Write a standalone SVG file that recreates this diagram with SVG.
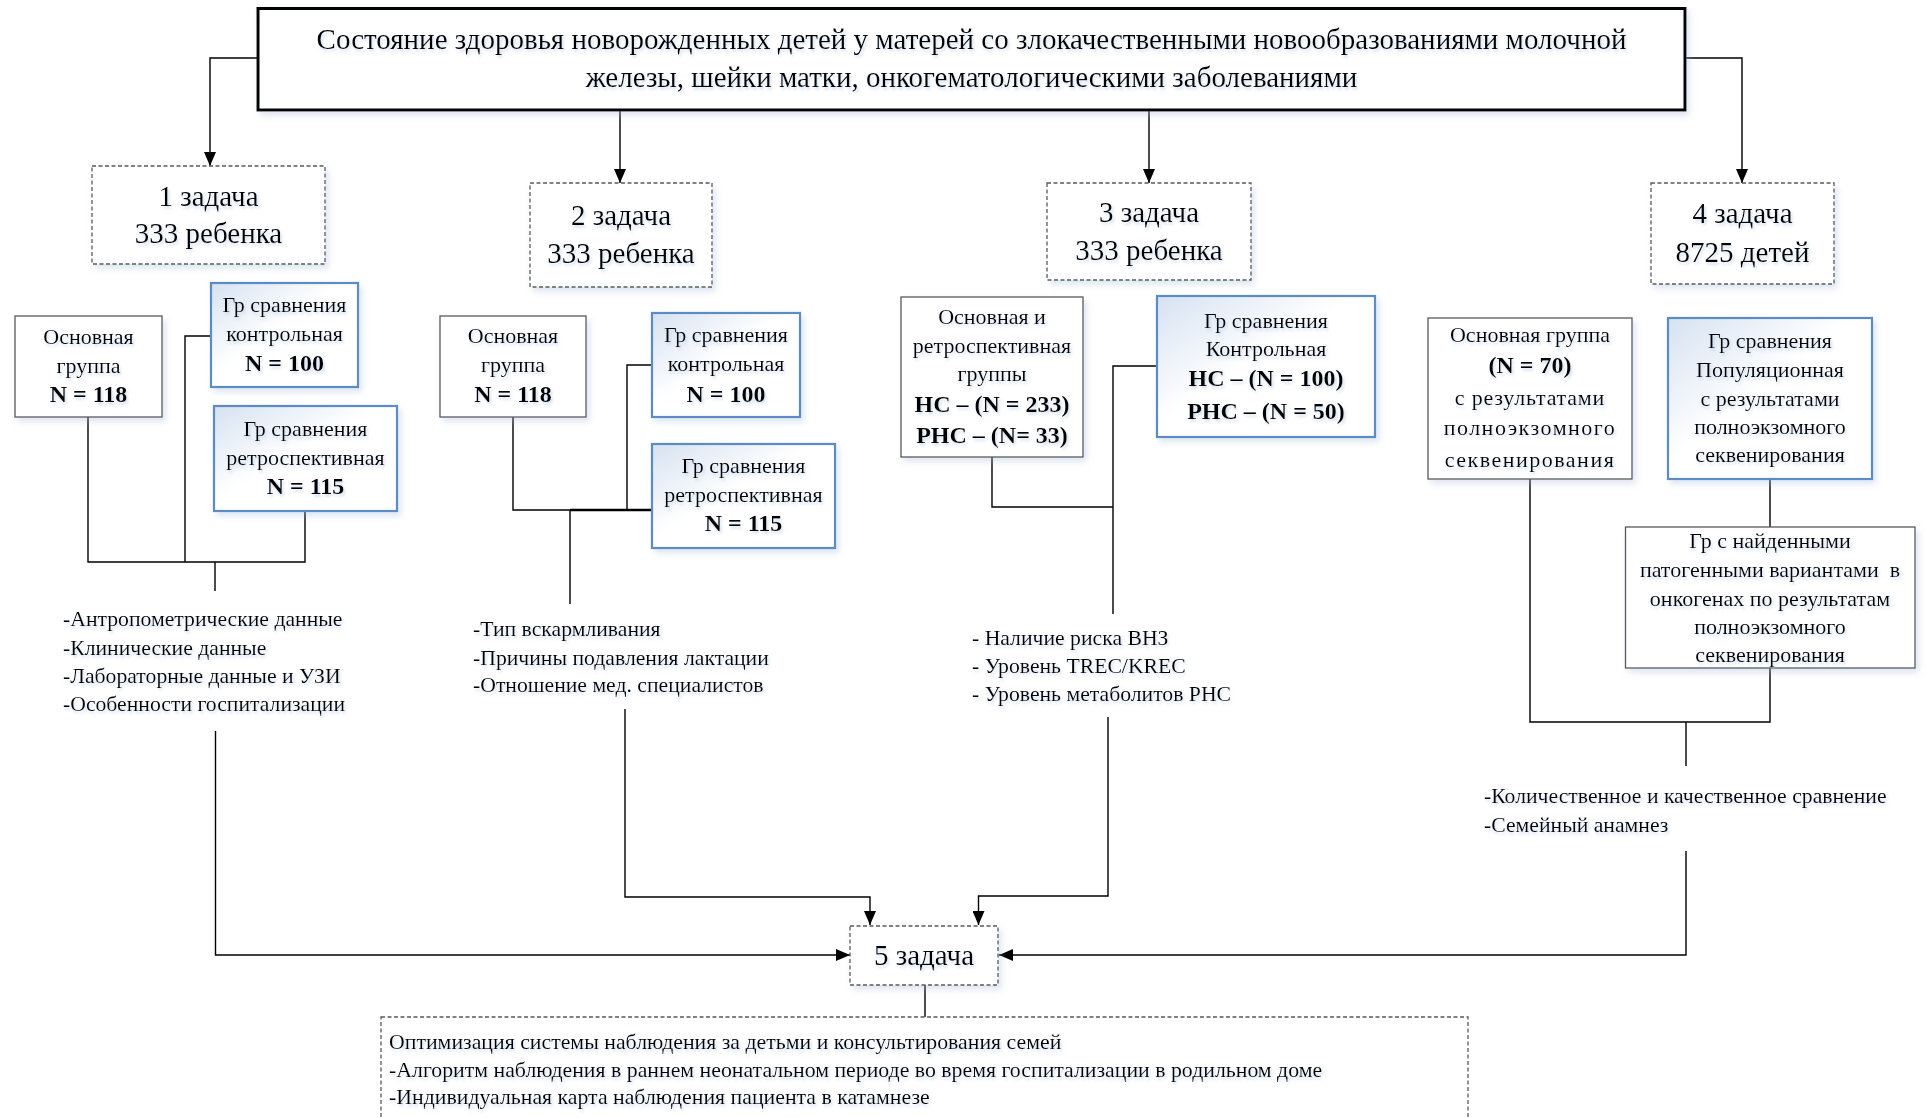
<svg xmlns="http://www.w3.org/2000/svg" width="1926" height="1118" viewBox="0 0 1926 1118">
<style>
.box{fill:#fff;stroke:#595959;stroke-width:1.3}
.blue{fill:url(#gb);stroke:#5B8BC6;stroke-width:2.2}
.dash{fill:#fff;stroke:#595959;stroke-width:1.3;stroke-dasharray:4 2.5}
.main{fill:#fff;stroke:#000;stroke-width:3}
.ln{fill:none;stroke:#000;stroke-width:1.4}
text{font-family:"Liberation Serif","Times New Roman",serif;fill:#000}
.tt{font-size:29px;text-anchor:middle}
.t28{font-size:29px;text-anchor:middle}
.t21{font-size:22px;text-anchor:middle}
.l21{font-size:21.7px}
.l22{font-size:21.8px}
.b{font-weight:bold;font-size:24px}
.sh{filter:url(#ds)}
.ts{filter:url(#ts)}
</style>
<defs>
<linearGradient id="gb" x1="0" y1="0" x2="1" y2="1">
<stop offset="0" stop-color="#D6E2F1"/>
<stop offset="0.45" stop-color="#FFFFFF"/>
<stop offset="1" stop-color="#FFFFFF"/>
</linearGradient>
<filter id="ds" x="-10%" y="-10%" width="125%" height="130%">
<feDropShadow dx="3" dy="4" stdDeviation="3" flood-color="#9DB7D8" flood-opacity="0.35"/>
</filter>
<filter id="ts" x="-5%" y="-20%" width="110%" height="150%">
<feDropShadow dx="1.5" dy="2.5" stdDeviation="1.5" flood-color="#A9C1DF" flood-opacity="0.55"/>
</filter>
<marker id="arb" viewBox="0 0 14 12" refX="14" refY="6" markerWidth="14" markerHeight="12" markerUnits="userSpaceOnUse" orient="auto">
<path d="M0,0 L14,6 L0,12 z" fill="#000"/>
</marker>
</defs>
<rect width="1926" height="1118" fill="#fff"/>

<g id="connectors">
<path class="ln" d="M258,58 H210 V166" marker-end="url(#arb)"/>
<path class="ln" d="M620,110 V183" marker-end="url(#arb)"/>
<path class="ln" d="M1149,110 V183" marker-end="url(#arb)"/>
<path class="ln" d="M1685,58 H1742 V183" marker-end="url(#arb)"/>
<path class="ln" d="M88,417 V562 H305 V511"/>
<path class="ln" d="M211,336 H185 V562"/>
<path class="ln" d="M215,562 V591"/>
<path class="ln" d="M513,417 V510 H652"/>
<path class="ln" d="M570,510 H652" style="stroke-width:2.4"/>
<path class="ln" d="M652,365 H627 V510"/>
<path class="ln" d="M570,510 V604"/>
<path class="ln" d="M992,457 V507 H1113"/>
<path class="ln" d="M1157,366 H1113 V614"/>
<path class="ln" d="M1530,479 V722 H1770 V668"/>
<path class="ln" d="M1770,479 V527"/>
<path class="ln" d="M1686,722 V766"/>
<path class="ln" d="M215.5,731 V955 H850" marker-end="url(#arb)"/>
<path class="ln" d="M625,709 V897 H870 V925" marker-end="url(#arb)"/>
<path class="ln" d="M1108,717 V896 H978.5 V925" marker-end="url(#arb)"/>
<path class="ln" d="M1686,851 V955 H999" marker-end="url(#arb)"/>
<path class="ln" d="M925,985 V1017"/>
</g>

<g id="title">
<rect class="main sh" x="258" y="8.5" width="1427" height="101.5"/>
<g class="ts">
<text class="tt" x="971.5" y="48.5">Состояние здоровья новорожденных детей у матерей со злокачественными новообразованиями молочной</text>
<text class="tt" x="971.5" y="86.5">железы, шейки матки, онкогематологическими заболеваниями</text>
</g>
</g>

<g id="task1">
<rect class="dash sh" x="92" y="166" width="233" height="98"/>
<g class="ts"><text class="t28" x="208.5" y="205.5">1 задача</text><text class="t28" x="208.5" y="242.5">333 ребенка</text></g>
</g>
<g id="task2">
<rect class="dash sh" x="530" y="183" width="182" height="104"/>
<g class="ts"><text class="t28" x="621" y="225">2 задача</text><text class="t28" x="621" y="262.5">333 ребенка</text></g>
</g>
<g id="task3">
<rect class="dash sh" x="1047" y="183" width="204" height="97"/>
<g class="ts"><text class="t28" x="1149" y="221.5">3 задача</text><text class="t28" x="1149" y="260">333 ребенка</text></g>
</g>
<g id="task4">
<rect class="dash sh" x="1651" y="183" width="183" height="101"/>
<g class="ts"><text class="t28" x="1742.5" y="222.5">4 задача</text><text class="t28" x="1742.5" y="261.5">8725 детей</text></g>
</g>

<g id="g1-main">
<rect class="box sh" x="15" y="316" width="147" height="101"/>
<g class="ts"><text class="t21" x="88.5" y="344">Основная</text><text class="t21" x="88.5" y="373">группа</text><text class="t21 b" x="88.5" y="402">N = 118</text></g>
</g>
<g id="g1-control">
<rect class="blue sh" x="211" y="283" width="147" height="104"/>
<g class="ts"><text class="t21" x="284.5" y="312">Гр сравнения</text><text class="t21" x="284.5" y="341">контрольная</text><text class="t21 b" x="284.5" y="371">N = 100</text></g>
</g>
<g id="g1-retro">
<rect class="blue sh" x="214" y="406" width="183" height="105"/>
<g class="ts"><text class="t21" x="305.5" y="436">Гр сравнения</text><text class="t21" x="305.5" y="465">ретроспективная</text><text class="t21 b" x="305.5" y="494">N = 115</text></g>
</g>
<g id="g1-list" class="ts">
<text class="l21" x="63" y="626">-Антропометрические данные</text>
<text class="l21" x="63" y="655">-Клинические данные</text>
<text class="l21" x="63" y="683">-Лабораторные данные и УЗИ</text>
<text class="l21" x="63" y="711">-Особенности госпитализации</text>
</g>

<g id="g2-main">
<rect class="box sh" x="440" y="316" width="146" height="101"/>
<g class="ts"><text class="t21" x="513" y="343">Основная</text><text class="t21" x="513" y="372">группа</text><text class="t21 b" x="513" y="402">N = 118</text></g>
</g>
<g id="g2-control">
<rect class="blue sh" x="652" y="313" width="148" height="104"/>
<g class="ts"><text class="t21" x="726" y="342">Гр сравнения</text><text class="t21" x="726" y="371">контрольная</text><text class="t21 b" x="726" y="402">N = 100</text></g>
</g>
<g id="g2-retro">
<rect class="blue sh" x="652" y="444" width="183" height="104"/>
<g class="ts"><text class="t21" x="743.5" y="473">Гр сравнения</text><text class="t21" x="743.5" y="502">ретроспективная</text><text class="t21 b" x="743.5" y="531">N = 115</text></g>
</g>
<g id="g2-list" class="ts">
<text class="l21" x="473" y="636">-Тип вскармливания</text>
<text class="l21" x="473" y="664.5">-Причины подавления лактации</text>
<text class="l21" x="473" y="692">-Отношение мед. специалистов</text>
</g>

<g id="g3-main">
<rect class="box sh" x="901" y="297" width="182" height="160"/>
<g class="ts"><text class="t21" x="992" y="324">Основная и</text><text class="t21" x="992" y="353">ретроспективная</text><text class="t21" x="992" y="381">группы</text><text class="t21 b" x="992" y="412">НС – (N = 233)</text><text class="t21 b" x="992" y="442.5">РНС – (N= 33)</text></g>
</g>
<g id="g3-control">
<rect class="blue sh" x="1157" y="296" width="218" height="141"/>
<g class="ts"><text class="t21" x="1266" y="328">Гр сравнения</text><text class="t21" x="1266" y="356">Контрольная</text><text class="t21 b" x="1266" y="386">НС – (N = 100)</text><text class="t21 b" x="1266" y="419">РНС – (N = 50)</text></g>
</g>
<g id="g3-list" class="ts">
<text class="l21" x="972" y="645">- Наличие риска ВНЗ</text>
<text class="l21" x="972" y="673">- Уровень TREC/KREC</text>
<text class="l21" x="972" y="701">- Уровень метаболитов РНС</text>
</g>

<g id="g4-main">
<rect class="box sh" x="1428" y="318" width="204" height="161"/>
<g class="ts"><text class="t21" x="1530" y="342">Основная группа</text><text class="t21 b" x="1530" y="373">(N = 70)</text><text class="t21" x="1530" y="405" style="letter-spacing:0.8px">с результатами</text><text class="t21" x="1530" y="435" style="letter-spacing:1.5px">полноэкзомного</text><text class="t21" x="1530" y="467" style="letter-spacing:1.5px">секвенирования</text></g>
</g>
<g id="g4-pop">
<rect class="blue sh" x="1668" y="318" width="204" height="161"/>
<g class="ts"><text class="t21" x="1770" y="348">Гр сравнения</text><text class="t21" x="1770" y="377">Популяционная</text><text class="t21" x="1770" y="406">с результатами</text><text class="t21" x="1770" y="434">полноэкзомного</text><text class="t21" x="1770" y="462">секвенирования</text></g>
</g>
<g id="g4-found">
<rect class="box sh" x="1625.5" y="527" width="289.5" height="141"/>
<g class="ts"><text class="t21" x="1770" y="548">Гр с найденными</text><text class="t21" x="1770" y="577" xml:space="preserve">патогенными вариантами  в</text><text class="t21" x="1770" y="606">онкогенах по результатам</text><text class="t21" x="1770" y="634">полноэкзомного</text><text class="t21" x="1770" y="662">секвенирования</text></g>
</g>
<g id="g4-list" class="ts">
<text class="l21" x="1484" y="803">-Количественное и качественное сравнение</text>
<text class="l21" x="1484" y="832">-Семейный анамнез</text>
</g>

<g id="task5">
<rect class="dash sh" x="850" y="926" width="148" height="59"/>
<text class="ts" x="924" y="965" style="font-size:29px;text-anchor:middle">5 задача</text>
</g>

<g id="result">
<rect class="dash" x="381" y="1017" width="1087" height="120"/>
<g class="ts">
<text class="l22" x="389" y="1049">Оптимизация системы наблюдения за детьми и консультирования семей</text>
<text class="l22" x="389" y="1077">-Алгоритм наблюдения в раннем неонатальном периоде во время госпитализации в родильном доме</text>
<text class="l22" x="389" y="1104">-Индивидуальная карта наблюдения пациента в катамнезе</text>
</g>
</g>
</svg>
